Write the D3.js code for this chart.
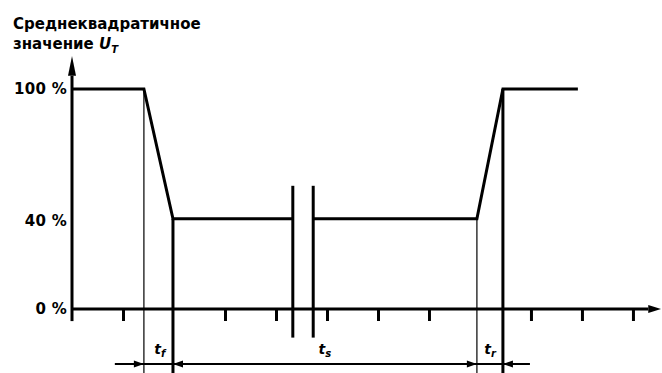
<!DOCTYPE html>
<html>
<head>
<meta charset="utf-8">
<script src="https://cdn.jsdelivr.net/npm/d3@7"></script>
<style>
  body { margin: 0; background: #fff; }
  text { font-family: "DejaVu Sans", sans-serif; }
</style>
</head>
<body>
<div id="chart"></div>
<script>
const width = 662;
const height = 373;

// data, time in tick units, level in %
const timeTicks = [1, 3, 4, 5, 6, 7, 9, 10, 11];
const levelTicks = [0, 40, 100];
const levelLabels = ["0 %", "40 %", "100 %"];
const waveLeft = [[0, 100], [1.41, 100], [1.98, 41], [4.33, 41]];
const waveRight = [[4.73, 41], [7.94, 41], [8.45, 100], [9.92, 100]];
const breakTimes = [4.33, 4.73];
const breakRange = [56, -13];
const thinMarks = [[1.41, 100], [7.94, 41]];
const thickMarks = [[1.98, 41], [8.45, 100]];
const markBottom = -30;
const dimLevel = -25;
const dimExtent = [0.84, 8.98];
const arrowTips = [[1.41, 1], [1.98, -1], [7.94, 1], [8.45, -1]];
const dimLabels = [["t", "f", 1.72], ["t", "s", 4.96], ["t", "r", 8.2]];
const titleLines = ["Среднеквадратичное", "значение "];

const svg = d3.select("#chart")
  .append("svg")
  .attr("width", width)
  .attr("height", height);

const x = d3.scaleLinear()
  .domain([0, 11.55])
  .range([72, 661]);

const y = d3.scaleLinear()
  .domain([0, 100])
  .range([309, 89]);

// x ticks
svg.append("g")
  .attr("transform", `translate(0,${y(0)})`)
  .call(d3.axisBottom(x).tickValues(timeTicks).tickSizeInner(12).tickSizeOuter(0).tickFormat(""))
  .call(g => g.select(".domain").remove())
  .call(g => g.selectAll(".tick line").attr("stroke", "#000").attr("stroke-width", 3));

// y labels
svg.append("g")
  .attr("transform", `translate(${x(0)},0)`)
  .call(d3.axisLeft(y).tickValues(levelTicks).tickSize(0).tickPadding(5)
    .tickFormat((d, i) => levelLabels[i]))
  .call(g => g.select(".domain").remove())
  .call(g => g.selectAll(".tick text")
    .attr("font-family", "DejaVu Sans")
    .attr("font-weight", "bold")
    .attr("font-size", 15)
    .attr("letter-spacing", 0.3)
    .attr("fill", "#000"));

// axis lines with arrows
svg.append("line")
  .attr("x1", x(0)).attr("x2", x(0))
  .attr("y1", y(-5.5)).attr("y2", y(106))
  .attr("stroke", "#000").attr("stroke-width", 3);
svg.append("line")
  .attr("x1", x(0)).attr("x2", x(11.3))
  .attr("y1", y(0)).attr("y2", y(0))
  .attr("stroke", "#000").attr("stroke-width", 3);
svg.append("path")
  .attr("d", `M${x(0)},${y(115)} L${x(0) - 4},${y(106)} L${x(0) + 4},${y(106)} Z`)
  .attr("fill", "#000");
svg.append("path")
  .attr("d", `M${x(11.55)},${y(0)} L${x(11.3)},${y(0) - 4} L${x(11.3)},${y(0) + 4} Z`)
  .attr("fill", "#000");

// guide lines
svg.selectAll(".thin")
  .data(thinMarks)
  .join("line")
  .attr("x1", d => x(d[0])).attr("x2", d => x(d[0]))
  .attr("y1", d => y(d[1])).attr("y2", y(markBottom))
  .attr("stroke", "#000").attr("stroke-width", 1.2);

svg.selectAll(".thick")
  .data(thickMarks)
  .join("line")
  .attr("x1", d => x(d[0])).attr("x2", d => x(d[0]))
  .attr("y1", d => y(d[1])).attr("y2", y(markBottom))
  .attr("stroke", "#000").attr("stroke-width", 3);

// break lines
svg.selectAll(".brk")
  .data(breakTimes)
  .join("line")
  .attr("x1", d => x(d)).attr("x2", d => x(d))
  .attr("y1", y(breakRange[0])).attr("y2", y(breakRange[1]))
  .attr("stroke", "#000").attr("stroke-width", 3);

// waveform
const line = d3.line()
  .x(d => x(d[0]))
  .y(d => y(d[1]));

svg.selectAll(".wave")
  .data([waveLeft, waveRight])
  .join("path")
  .attr("d", line)
  .attr("fill", "none")
  .attr("stroke", "#000")
  .attr("stroke-width", 3)
  .attr("stroke-linejoin", "miter");

// dimension line
svg.append("line")
  .attr("x1", x(dimExtent[0])).attr("x2", x(dimExtent[1]))
  .attr("y1", y(dimLevel)).attr("y2", y(dimLevel))
  .attr("stroke", "#000").attr("stroke-width", 2);

svg.selectAll(".tip")
  .data(arrowTips)
  .join("path")
  .attr("d", d => {
    const tx = x(d[0]), ty = y(dimLevel);
    return `M${tx},${ty} L${tx - d[1] * 10},${ty - 3.5} L${tx - d[1] * 10},${ty + 3.5} Z`;
  })
  .attr("fill", "#000");

const dl = svg.selectAll(".dimlab")
  .data(dimLabels)
  .join("text")
  .attr("x", d => x(d[2]))
  .attr("y", 354)
  .attr("text-anchor", "middle")
  .attr("font-family", "DejaVu Sans")
  .attr("font-style", "italic")
  .attr("font-weight", "bold")
  .attr("font-size", 14);
dl.append("tspan").text(d => d[0]);
dl.append("tspan").attr("dy", 3).attr("font-size", 10).text(d => d[1]);

// title
const title = svg.append("g")
  .attr("font-family", "DejaVu Sans")
  .attr("font-weight", "bold")
  .attr("font-size", 15);
title.append("text").attr("x", 13).attr("y", 29).text(titleLines[0]);
const t2 = title.append("text").attr("x", 13).attr("y", 49).text(titleLines[1]);
t2.append("tspan").attr("font-style", "italic").attr("font-size", 15).text("U");
t2.append("tspan").attr("font-style", "italic").attr("font-size", 10).attr("dy", 4).text("T");
</script>
</body>
</html>
